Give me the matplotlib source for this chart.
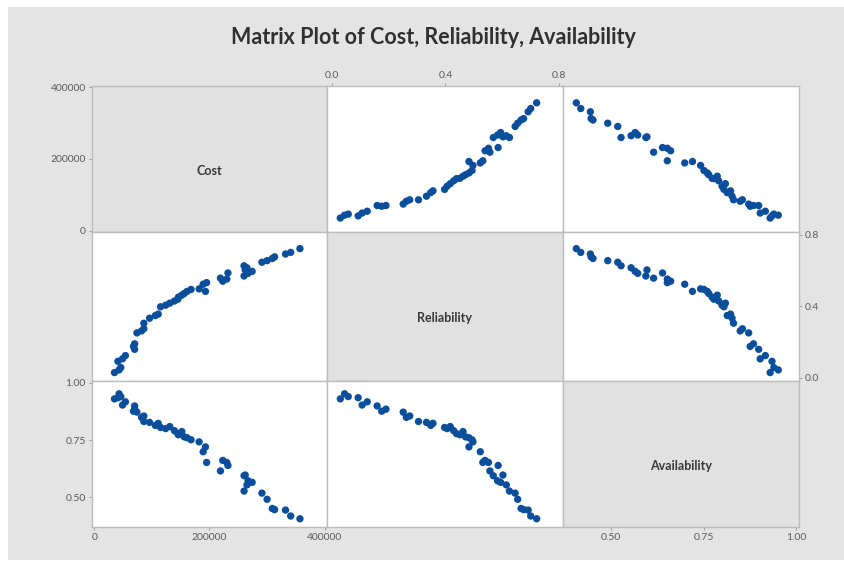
import matplotlib
matplotlib.use("Agg")
import matplotlib.pyplot as plt
from matplotlib.patches import Rectangle

plt.rcParams['font.family'] = ['Lato', 'DejaVu Sans']

reliability = [0.029, 0.044, 0.057, 0.092, 0.106, 0.124, 0.159, 0.175, 0.190, 0.251,
               0.262, 0.274, 0.305, 0.333, 0.348, 0.356, 0.397, 0.406, 0.417, 0.429,
               0.439, 0.451, 0.462, 0.471, 0.483, 0.483, 0.494, 0.497, 0.523, 0.532,
               0.540, 0.552, 0.557, 0.569, 0.584, 0.586, 0.595, 0.603, 0.615, 0.626,
               0.646, 0.655, 0.667, 0.676, 0.692, 0.701, 0.722]
cost = [35000, 43000, 46000, 41000, 49000, 54000, 70000, 68000, 70000, 74000,
        82000, 86000, 86000, 96000, 106000, 111000, 115000, 124000, 131000, 139000,
        145000, 146000, 152000, 156000, 161000, 193000, 168000, 182000, 189000, 195000,
        223000, 230000, 219000, 260000, 267000, 232000, 274000, 262000, 265000, 260000,
        291000, 300000, 309000, 313000, 332000, 341000, 357000]
availability = [0.930, 0.952, 0.940, 0.935, 0.903, 0.917, 0.899, 0.876, 0.885, 0.872,
                0.849, 0.855, 0.831, 0.827, 0.814, 0.823, 0.805, 0.800, 0.809, 0.791,
                0.778, 0.773, 0.787, 0.764, 0.760, 0.720, 0.751, 0.742, 0.699, 0.652,
                0.661, 0.652, 0.615, 0.594, 0.572, 0.639, 0.565, 0.597, 0.554, 0.527,
                0.518, 0.491, 0.451, 0.446, 0.444, 0.418, 0.406]

names = ['Cost', 'Reliability', 'Availability']
series = [cost, reliability, availability]
limits = [(-4000, 404000), (-0.018, 0.815), (0.370, 1.008)]
ticks = [[0, 200000, 400000], [0.0, 0.4, 0.8], [0.50, 0.75, 1.00]]
ticklabels = [['0', '200000', '400000'], ['0.0', '0.4', '0.8'], ['0.50', '0.75', '1.00']]

W, H = 845, 568
fig = plt.figure(figsize=(W / 100, H / 100), dpi=100, facecolor='white')

# gray background panel behind everything
bg = Rectangle((8 / W, 1 - 560 / H), 1, (560 - 7) / H, transform=fig.transFigure,
               facecolor='#e4e4e4', edgecolor='none', zorder=-10)
fig.add_artist(bg)

fig.text(433 / W, 1 - 37 / H, 'Matrix Plot of Cost, Reliability, Availability',
         ha='center', va='center', fontsize=15.5, fontweight='bold', color='#303030')

xs = [92, 327, 563, 799]
ys = [86, 232, 381, 527]
border = '#bdbdbd'
tickc = '#5a5a5a'

for r in range(3):
    for c in range(3):
        ax = fig.add_axes([xs[c] / W, 1 - ys[r + 1] / H,
                           (xs[c + 1] - xs[c]) / W, (ys[r + 1] - ys[r]) / H])
        ax.set_xlim(limits[c])
        ax.set_ylim(limits[r])
        for s in ax.spines.values():
            s.set_color(border)
            s.set_linewidth(1.0)
        ax.tick_params(length=2.5, width=0.8, color='#a0a0a0', labelsize=7.5,
                       labelcolor=tickc, pad=2)
        ax.set_xticks([])
        ax.set_yticks([])
        if r == c:
            ax.set_facecolor('#e1e1e1')
            ax.text(0.5, 0.42, names[r], transform=ax.transAxes, ha='center',
                    va='center', fontsize=9, fontweight='bold', color='#383838')
        else:
            ax.set_facecolor('white')
            ax.scatter(series[c], series[r], s=28, color='#0b4f9c',
                       edgecolors='none', zorder=3)
        # axis labels alternate around the grid, like Minitab
        if c == 0 and r in (0, 2):
            ax.set_yticks(ticks[r])
            ax.set_yticklabels(ticklabels[r])
        if c == 2 and r == 1:
            ax.yaxis.tick_right()
            ax.set_yticks(ticks[r])
            ax.set_yticklabels(ticklabels[r])
        if r == 2 and c in (0, 2):
            ax.set_xticks(ticks[c])
            ax.set_xticklabels(ticklabels[c])
        if r == 0 and c == 1:
            ax.xaxis.tick_top()
            ax.set_xticks(ticks[c])
            ax.set_xticklabels(ticklabels[c])

fig.savefig('out.png', dpi=100, facecolor='white')
